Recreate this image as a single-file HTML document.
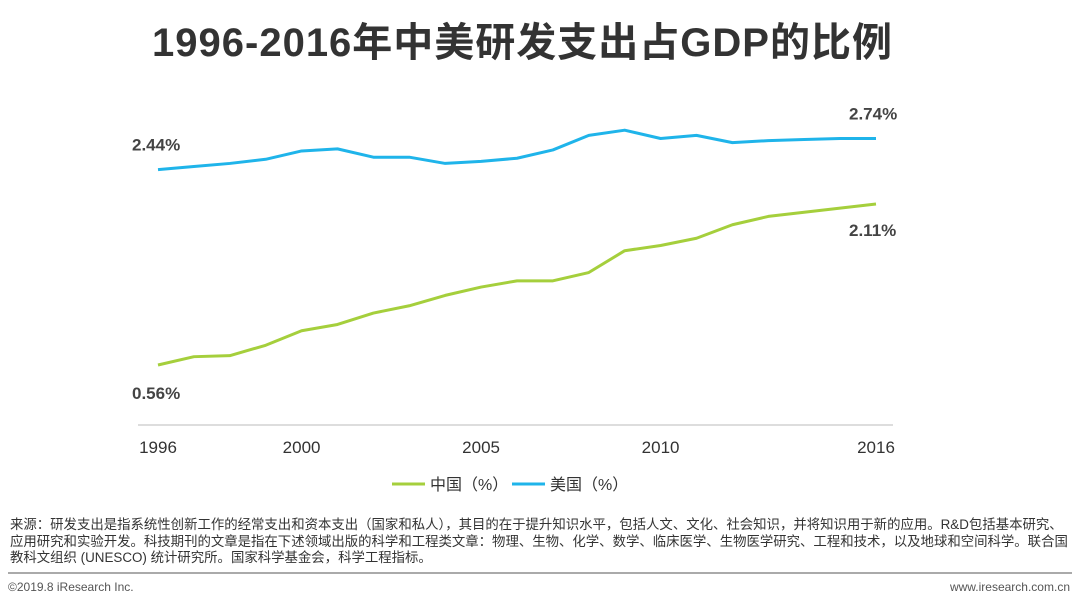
<!DOCTYPE html>
<html><head><meta charset="utf-8"><style>
body{margin:0;width:1080px;height:602px;background:#fff;font-family:"Liberation Sans","Noto Sans CJK SC",sans-serif;overflow:hidden;position:relative}
.t{position:absolute}
</style></head><body>
<div class="t" style="left:0;width:1045px;top:10px;text-align:center;font-size:40px;font-weight:bold;color:#333;letter-spacing:1px">1996-2016年中美研发支出占GDP的比例</div>
<svg id="c" width="1080" height="510" style="position:absolute;left:0;top:0"></svg>
<div class="t" style="left:10px;top:517px;width:1062px;font-size:13.4px;line-height:16.5px;color:#333;white-space:nowrap">来源：研发支出是指系统性创新工作的经常支出和资本支出（国家和私人），其目的在于提升知识水平，包括人文、文化、社会知识，并将知识用于新的应用。R&amp;D包括基本研究、<br>应用研究和实验开发。科技期刊的文章是指在下述领域出版的科学和工程类文章：物理、生物、化学、数学、临床医学、生物医学研究、工程和技术，以及地球和空间科学。联合国<br>教科文组织 (UNESCO) 统计研究所。国家科学基金会，科学工程指标。</div>
<div class="t" style="left:8px;top:572px;width:1064px;height:2px;background:#aaa"></div>
<div class="t" style="left:8px;top:580px;font-size:12px;color:#555">©2019.8 iResearch Inc.</div>
<div class="t" style="right:10px;top:580px;font-size:12px;color:#555">www.iresearch.com.cn</div>
<script>
const years=[1996,1997,1998,1999,2000,2001,2002,2003,2004,2005,2006,2007,2008,2009,2010,2011,2012,2013,2014,2015,2016];
const china=[0.56,0.64,0.65,0.75,0.89,0.95,1.06,1.13,1.23,1.31,1.37,1.37,1.45,1.66,1.71,1.78,1.91,1.99,2.03,2.07,2.11];
const usa=[2.44,2.47,2.50,2.54,2.62,2.64,2.56,2.56,2.50,2.52,2.55,2.63,2.77,2.82,2.74,2.77,2.70,2.72,2.73,2.74,2.74];
const tickYears=[1996,2000,2005,2010,2016];
const NS="http://www.w3.org/2000/svg";
const svg=document.getElementById('c');
const x=y=>158+(y-1996)*(876-158)/20;
const yv=v=>365-(v-0.56)*103.9;
function mk(t,a){const e=document.createElementNS(NS,t);for(const k in a)e.setAttribute(k,a[k]);svg.appendChild(e);return e;}
const ax=mk('line',{x1:138,x2:893,y1:425,y2:425,stroke:'#bbb','stroke-width':1});


tickYears.forEach(t=>{const e=mk('text',{x:x(t),y:453,'text-anchor':'middle','font-size':17,fill:'#333'});e.textContent=t;

});
function line(d,col,name){const p=mk('polyline',{points:d.map((v,i)=>x(years[i])+','+yv(v)).join(' '),fill:'none',stroke:col,'stroke-width':3,'stroke-linejoin':'round'});

}
line(china,'#a5cf3c','china-line');
line(usa,'#1fb4ea','usa-line');
function lab(s,xx,yy,name){const e=mk('text',{x:xx,y:yy,'font-size':17,'font-weight':'bold',fill:'#444'});e.textContent=s;

}
lab(usa[0].toFixed(2)+'%',132,yv(usa[0])-19,'usa-start-label');
lab(usa[20].toFixed(2)+'%',849,yv(usa[20])-19,'usa-end-label');
lab(china[0].toFixed(2)+'%',132,yv(china[0])+34,'china-start-label');
lab(china[20].toFixed(2)+'%',849,yv(china[20])+32,'china-end-label');
function leg(xx,col,s,name){const l=mk('line',{x1:xx,x2:xx+33,y1:484,y2:484,stroke:col,'stroke-width':3});


const t=mk('text',{x:xx+38,y:490,'font-size':16,fill:'#333'});t.textContent=s;

}
leg(392,'#a5cf3c','中国（%）','legend-china');
leg(512,'#1fb4ea','美国（%）','legend-usa');
</script>
</body></html>
